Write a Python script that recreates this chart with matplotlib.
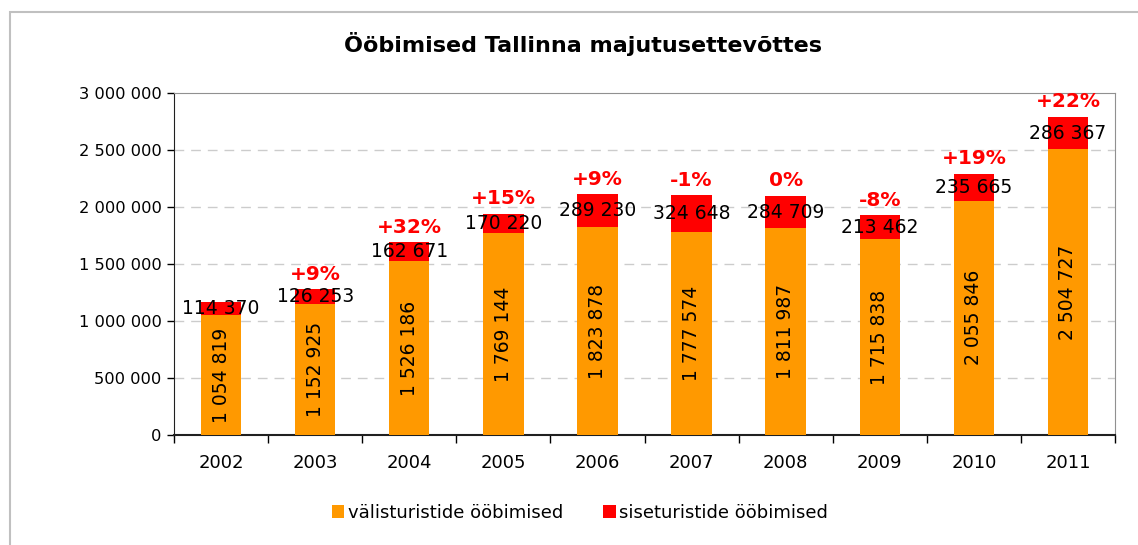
import matplotlib
matplotlib.use("Agg")
import matplotlib.pyplot as plt
from matplotlib.patches import Rectangle
import numpy as np

plt.rcParams['font.family'] = ['DejaVu Sans']

years = ["2002", "2003", "2004", "2005", "2006", "2007", "2008", "2009", "2010", "2011"]
foreign = [1054819, 1152925, 1526186, 1769144, 1823878, 1777574, 1811987, 1715838, 2055846, 2504727]
domestic = [114370, 126253, 162671, 170220, 289230, 324648, 284709, 213462, 235665, 286367]
growth = ["", "+9%", "+32%", "+15%", "+9%", "-1%", "0%", "-8%", "+19%", "+22%"]
yticks = [0, 500000, 1000000, 1500000, 2000000, 2500000, 3000000]

title = "Ööbimised Tallinna majutusettevõttes"
legend_labels = ["välisturistide ööbimised", "siseturistide ööbimised"]

ORANGE = "#FF9900"
RED = "#FF0000"

def fmt(v):
    return f"{v:,}".replace(",", " ")

W, H = 1138, 545
fig = plt.figure(figsize=(W / 100, H / 100), dpi=100)
ax = fig.add_axes([174 / W, 1 - 435 / H, (1115 - 174) / W, (435 - 93) / H])

x = np.arange(len(years))
bw = 0.43
b1 = ax.bar(x, foreign, width=bw, color=ORANGE, label=legend_labels[0], zorder=3)
b2 = ax.bar(x, domestic, width=bw, bottom=foreign, color=RED, label=legend_labels[1], zorder=3)

for i in range(len(years)):
    ax.text(x[i], foreign[i] / 2, fmt(foreign[i]), rotation=90, ha='center', va='center',
            fontsize=13.5, color='black', zorder=4)
    ax.text(x[i], foreign[i] + domestic[i] / 2, fmt(domestic[i]), ha='center', va='center',
            fontsize=13.5, color='black', zorder=4)
    if growth[i]:
        ax.annotate(growth[i], (x[i], foreign[i] + domestic[i]), xytext=(0, 4),
                    textcoords='offset points', ha='center', va='bottom',
                    fontsize=14.5, fontweight='bold', color=RED, zorder=4)

ax.set_xlim(-0.5, len(years) - 0.5)
ax.set_ylim(0, 3000000)
ax.set_yticks(yticks)
ax.set_yticklabels([fmt(v) for v in yticks], fontsize=11.7)
ax.set_xticks(x)
ax.set_xticklabels(years, fontsize=13)
ax.set_xticks(np.arange(-0.5, len(years)), minor=True)
ax.tick_params(axis='x', which='major', length=0, pad=14)
ax.tick_params(axis='x', which='minor', length=6, width=1, color='black', direction='out')
ax.tick_params(axis='y', length=5, width=1, direction='out', pad=4)

for yv in yticks[1:-1]:
    ax.axhline(yv, color='#CCCCCC', linestyle=(0, (7, 5)), linewidth=1, zorder=1)

ax.spines['left'].set_color('#202020')
ax.spines['bottom'].set_color('#202020')
ax.spines['bottom'].set_linewidth(1.5)
ax.spines['top'].set_color('#909090')
ax.spines['right'].set_color('#909090')

fig.text(583 / W, 1 - 44 / H, title, ha='center', va='center', fontsize=16, fontweight='bold')

fig.legend(handles=[b1, b2], labels=legend_labels, loc='center', bbox_to_anchor=(580 / W, 1 - 513 / H),
           ncol=2, frameon=False, fontsize=13, handlelength=0.7, handleheight=0.7,
           handletextpad=0.2, columnspacing=2.2)

fig.patches.append(Rectangle((10 / W, -0.05), 1.2, 1 - 12 / H + 0.05, transform=fig.transFigure,
                             fill=False, edgecolor='#C0C0C0', linewidth=1.5))

fig.savefig("out.png", dpi=100)
